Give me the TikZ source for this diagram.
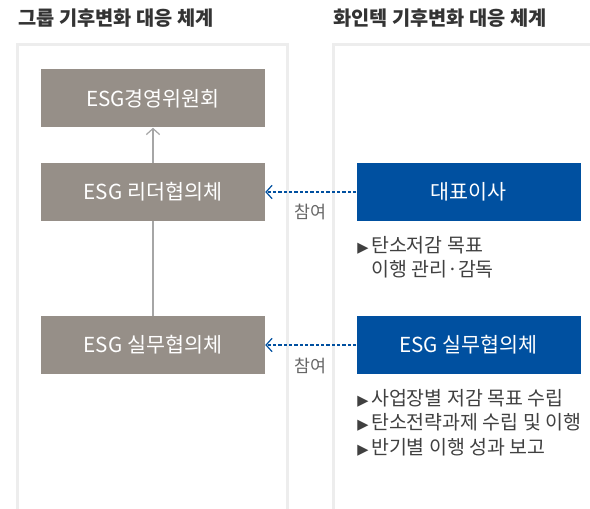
\documentclass[tikz,border=0pt]{standalone}
\usepackage{fontspec}
\setmainfont{Noto Sans CJK KR}
\newfontfamily\symfont{DejaVu Sans}
\newcommand\tri{{\symfont\scalebox{0.75}{▶}}\hspace{2pt}}
\usetikzlibrary{arrows.meta}
\colorlet{panelline}{black!7}
\colorlet{groupbg}{rgb,255:red,150;green,143;blue,136}
\colorlet{hwbg}{rgb,255:red,0;green,80;blue,160}
\colorlet{headtxt}{black!80}
\tikzset{
  groupbox/.style={fill=groupbg,text=white,minimum width=224*0.75pt,minimum height=58*0.75pt,
    inner sep=0pt,font=\fontsize{15.5}{17}\selectfont},
  hwbox/.style={groupbox,fill=hwbg},
  headline/.style={anchor=west,text=headtxt,inner sep=0pt,font=\fontsize{14.8}{17}\selectfont\bfseries},
  joinlabel/.style={text=black!60,inner sep=0pt,font=\fontsize{13}{15}\selectfont},
  tasklist/.style={anchor=north west,align=left,text=black!75,inner sep=0pt,
    font=\fontsize{14.6}{18.4}\selectfont},
}
\begin{document}
\begin{tikzpicture}[x=0.75pt,y=-0.75pt]
    \useasboundingbox (0,0) rectangle (590,509);
    % Panels
    \draw[panelline,line width=2.2pt] (17.5,520) |- (287.5,44.5) -- (287.5,520);
    \draw[panelline,line width=2.2pt] (333.5,520) |- (600,44.5);
    % Titles
    \node[headline] (t1) at (18,18) {그룹 기후변화 대응 체계};
    \node[headline] (t2) at (333,18) {화인텍 기후변화 대응 체계};
    % Boxes
    \node[groupbox] (board) at (153,98.5) {ESG경영위원회};
    \node[groupbox] (leader) at (153,192) {ESG 리더협의체};
    \node[groupbox] (work) at (153,345) {ESG 실무협의체};
    \node[hwbox] (ceo) at (468.5,192) {대표이사};
    \node[hwbox] (hwork) at (468.5,345) {ESG 실무협의체};
    % Links
    \draw[black!35,line width=0.9pt,-{Straight Barb[length=4.5pt,width=10pt]}] (leader) -- (board);
    \draw[black!35,line width=0.9pt] (work) -- (leader);
    \draw[hwbg,line width=0.9pt,dash pattern=on 2.5pt off 1.5pt,
      -{Straight Barb[length=4.5pt,width=10pt]}] (ceo) -- (leader)
      node[joinlabel,midway,below=9pt] (j1) {참여};
    \draw[hwbg,line width=0.9pt,dash pattern=on 2.5pt off 1.5pt,
      -{Straight Barb[length=4.5pt,width=10pt]}] (hwork) -- (work)
      node[joinlabel,midway,below=9pt] (j2) {참여};
    % Tasks
    \node[tasklist] (c1) at (357,236) {\tri 탄소저감 목표\\
      \phantom{\tri}이행 관리·감독};
    \node[tasklist] (c2) at (357,389) {\tri 사업장별 저감 목표 수립\\
      \tri 탄소전략과제 수립 및 이행\\
      \tri 반기별 이행 성과 보고};
\end{tikzpicture}
\end{document}
